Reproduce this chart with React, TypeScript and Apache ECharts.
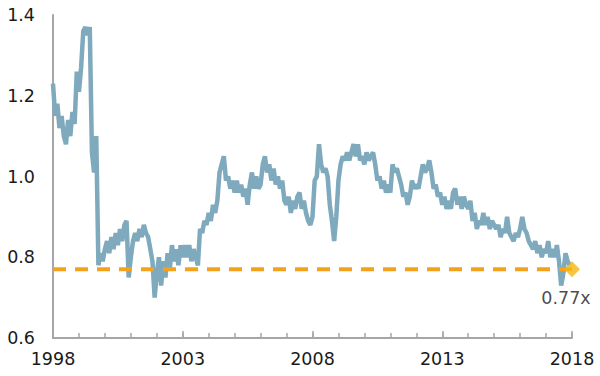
import React, { useEffect, useRef } from "react";
import * as echarts from "echarts";

// Monthly valuation multiple, Jan..Dec of each year
const v1998 = [1.23, 1.15, 1.18, 1.12, 1.15, 1.10, 1.08, 1.14, 1.10, 1.16, 1.13, 1.26];
const v1999 = [1.21, 1.27, 1.36, 1.37, 1.35, 1.37, 1.06, 1.01, 1.10, 0.78, 0.81, 0.79];
const v2000 = [0.82, 0.84, 0.81, 0.85, 0.82, 0.86, 0.83, 0.87, 0.84, 0.88, 0.89, 0.75];
const v2001 = [0.80, 0.84, 0.86, 0.84, 0.87, 0.85, 0.88, 0.86, 0.85, 0.82, 0.79, 0.70];
const v2002 = [0.76, 0.80, 0.73, 0.79, 0.75, 0.81, 0.77, 0.83, 0.79, 0.82, 0.78, 0.83];
const v2003 = [0.80, 0.83, 0.80, 0.83, 0.79, 0.82, 0.80, 0.78, 0.87, 0.86, 0.89, 0.88];
const v2004 = [0.91, 0.89, 0.93, 0.91, 0.94, 1.01, 1.03, 1.05, 0.99, 1.00, 0.97, 0.99];
const v2005 = [0.96, 0.99, 0.96, 0.98, 0.95, 0.97, 0.93, 0.98, 1.01, 0.97, 1.00, 0.97];
const v2006 = [0.98, 1.03, 1.05, 1.01, 1.03, 0.99, 1.02, 0.98, 1.00, 0.97, 0.99, 0.94];
const v2007 = [0.93, 0.95, 0.91, 0.94, 0.92, 0.95, 0.96, 0.92, 0.94, 0.91, 0.89, 0.88];
const v2008 = [0.90, 0.99, 1.00, 1.08, 1.03, 1.01, 1.02, 1.00, 0.93, 0.89, 0.84, 0.90];
const v2009 = [0.99, 1.03, 1.05, 1.04, 1.06, 1.04, 1.06, 1.08, 1.05, 1.08, 1.04, 1.05];
const v2010 = [1.03, 1.06, 1.04, 1.05, 1.06, 1.03, 0.99, 1.00, 0.97, 0.99, 0.96, 0.98];
const v2011 = [0.96, 1.03, 1.01, 1.02, 1.00, 0.98, 0.95, 0.96, 0.93, 0.95, 0.99, 0.97];
const v2012 = [0.98, 0.97, 1.00, 1.03, 1.01, 1.02, 1.04, 1.01, 0.97, 0.98, 0.95, 0.96];
const v2013 = [0.93, 0.95, 0.92, 0.94, 0.92, 0.96, 0.97, 0.93, 0.95, 0.92, 0.95, 0.93];
const v2014 = [0.92, 0.94, 0.89, 0.91, 0.87, 0.89, 0.88, 0.91, 0.88, 0.90, 0.87, 0.89];
const v2015 = [0.88, 0.87, 0.88, 0.85, 0.87, 0.86, 0.90, 0.86, 0.85, 0.84, 0.86, 0.85];
const v2016 = [0.87, 0.90, 0.87, 0.86, 0.84, 0.83, 0.82, 0.84, 0.81, 0.83, 0.80, 0.82];
const v2017 = [0.81, 0.84, 0.80, 0.82, 0.80, 0.83, 0.79, 0.73, 0.76, 0.81, 0.79, 0.78];

const startYear = 1998;
const endYear = 2018;
const currentMultiple = 0.77;
const currentLabel = "0.77x";
const yTicks = [0.6, 0.8, 1.0, 1.2, 1.4];

const monthly = [
  v1998, v1999, v2000, v2001, v2002, v2003, v2004, v2005, v2006, v2007,
  v2008, v2009, v2010, v2011, v2012, v2013, v2014, v2015, v2016, v2017,
].flat();

export default function App() {
  const ref = useRef<HTMLDivElement>(null);
  useEffect(() => {
    if (!ref.current) return;
    const chart = echarts.init(ref.current, undefined, { renderer: "svg" });
    const lineData = monthly.map((v, i) => [startYear + i / 12, v]);
    const font = "DejaVu Sans";
    const axisGray = "#a6a6a6";
    chart.setOption({
      animation: false,
      backgroundColor: "#ffffff",
      grid: { left: 53, right: 28, top: 15, bottom: 38 },
      xAxis: [
        {
          type: "value",
          min: startYear,
          max: endYear,
          interval: 1,
          position: "bottom",
          axisLine: { show: true, lineStyle: { color: axisGray, width: 2 } },
          axisTick: { show: true, inside: true, length: 5, lineStyle: { color: axisGray, width: 1.5 } },
          splitLine: { show: false },
          axisLabel: {
            margin: 12,
            fontFamily: font,
            fontSize: 17.5,
            color: "#1a1a1a",
            showMinLabel: true,
            showMaxLabel: true,
            formatter: (v: number) => ((v - startYear) % 5 === 0 ? String(v) : ""),
          },
        },
        {
          type: "value",
          min: startYear,
          max: endYear,
          interval: 5,
          position: "bottom",
          axisLine: { show: false },
          axisTick: { show: true, inside: true, length: 7, lineStyle: { color: axisGray, width: 1.5 } },
          axisLabel: { show: false },
          splitLine: { show: false },
        },
      ],
      yAxis: {
        type: "value",
        min: yTicks[0],
        max: yTicks[yTicks.length - 1],
        interval: 0.2,
        axisLine: { show: true, lineStyle: { color: axisGray, width: 2 } },
        axisTick: { show: false },
        splitLine: { show: false },
        axisLabel: {
          margin: 18,
          fontFamily: font,
          fontSize: 17.5,
          color: "#1a1a1a",
          formatter: (v: number) => v.toFixed(1),
        },
      },
      series: [
        {
          type: "line",
          data: lineData,
          showSymbol: false,
          symbol: "none",
          lineStyle: { color: "#7fa9bc", width: 4.5 },
          z: 2,
        },
        {
          type: "line",
          data: [
            [startYear, currentMultiple],
            [endYear, currentMultiple],
          ],
          showSymbol: false,
          symbol: "none",
          lineStyle: { color: "#f4a21c", width: 4, type: [13, 9] },
          z: 3,
        },
        {
          type: "scatter",
          data: [[endYear, currentMultiple]],
          symbol: "diamond",
          symbolSize: 16,
          clip: false,
          itemStyle: { color: "#f5b812" },
          label: {
            show: true,
            formatter: currentLabel,
            position: "bottom",
            distance: 12,
            offset: [-6, 0],
            fontFamily: font,
            fontSize: 17.5,
            color: "#1a1a1a",
          },
          z: 4,
        },
      ],
    });
    return () => chart.dispose();
  }, []);
  return (
    <div
      ref={ref}
      style={{ position: "absolute", left: 0, top: 0, width: 600, height: 376 }}
    />
  );
}
